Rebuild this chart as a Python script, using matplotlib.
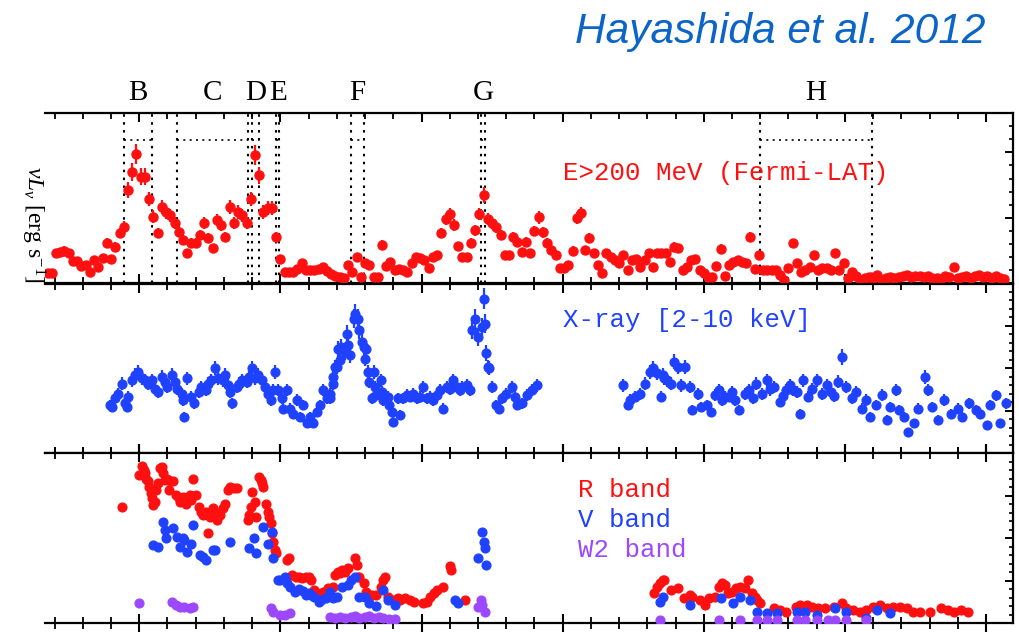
import numpy as np
import matplotlib
matplotlib.use("Agg")
import matplotlib.pyplot as plt
from matplotlib.ticker import MultipleLocator

plt.rcParams["mathtext.fontset"] = "custom"
plt.rcParams["mathtext.rm"] = "Liberation Serif"
plt.rcParams["mathtext.it"] = "Liberation Serif:italic"

# ---------------- Fermi-LAT E>200 MeV light curve (3-day bins) ----------------
LAT_FIRST_BIN = 54735.0
LAT_BIN_DAYS = 3.0
lat_flux = [
    0.16, 0.16, 0.47, 0.48, 0.50, 0.46, 0.35, 0.34, 0.26, 0.28,
    0.18, 0.36, 0.25, 0.39, 0.62, 0.37, 0.56, 0.77, 0.86, 1.42,
    1.70, 1.97, 1.63, 1.63, 1.29, 1.02, 0.77, 1.17, 1.09, 1.04,
    0.92, 0.79, 0.66, 0.46, 0.62, 0.62, 0.74, 0.92, 0.69, 0.54,
    0.97, 0.89, 0.71, 1.17, 0.92, 1.09, 1.04, 0.92, 1.29, 1.96,
    1.65, 1.09, 1.15, 1.15, 0.71, 0.37, 0.18, 0.17, 0.17, 0.22,
    0.31, 0.20, 0.20, 0.20, 0.22, 0.25, 0.19, 0.15, 0.12, 0.10,
    0.09, 0.28, 0.18, 0.40, 0.10, 0.31, 0.28, 0.10, 0.10, 0.59,
    0.27, 0.33, 0.20, 0.22, 0.20, 0.18, 0.31, 0.40, 0.39, 0.36,
    0.23, 0.40, 0.43, 0.77, 0.98, 1.06, 0.89, 0.57, 0.40, 0.40,
    0.62, 0.81, 1.06, 1.35, 0.98, 0.92, 0.86, 0.74, 0.43, 0.43,
    0.71, 0.63, 0.48, 0.63, 0.46, 0.80, 1.01, 0.78, 0.62, 0.51,
    0.43, 0.24, 0.24, 0.28, 0.50, 1.00, 1.07, 0.51, 0.69, 0.46,
    0.28, 0.16, 0.46, 0.40, 0.36, 0.31, 0.43, 0.20, 0.36, 0.37,
    0.25, 0.36, 0.46, 0.25, 0.46, 0.46, 0.46, 0.33, 0.56, 0.54,
    0.20, 0.25, 0.36, 0.38, 0.20, 0.16, 0.10, 0.10, 0.27, 0.53,
    0.11, 0.28, 0.33, 0.36, 0.33, 0.31, 0.71, 0.22, 0.43, 0.20,
    0.20, 0.20, 0.20, 0.13, 0.05, 0.23, 0.61, 0.31, 0.18, 0.20,
    0.25, 0.43, 0.20, 0.23, 0.23, 0.20, 0.46, 0.20, 0.31, 0.08,
    0.18, 0.11, 0.05, 0.08, 0.10, 0.08, 0.13, 0.05, 0.08, 0.10,
    0.09, 0.10, 0.12, 0.13, 0.10, 0.11, 0.12, 0.10, 0.12, 0.08,
    0.09, 0.07, 0.12, 0.10, 0.25, 0.08, 0.10, 0.12, 0.09, 0.11,
    0.13, 0.10, 0.12, 0.09, 0.11, 0.08, 0.07,
]
LAT_ERR_FLOOR = 0.035
LAT_ERR_FRAC = 0.06

# ---------------- X-ray 2-10 keV ----------------
xray_mjd = [
    54779, 54781, 54783, 54785, 54788, 54790, 54791, 54792, 54795, 54797,
    54799, 54802, 54804, 54806, 54809, 54811, 54813, 54816, 54818, 54820,
    54823, 54825, 54827, 54830, 54831, 54832, 54834, 54837, 54839, 54842,
    54844, 54847, 54849, 54851, 54854, 54856, 54859, 54861, 54863, 54864,
    54866, 54869, 54871, 54873, 54876, 54878, 54880, 54882, 54884, 54887,
    54889, 54891, 54893, 54895, 54896, 54898, 54901, 54902, 54905, 54907,
    54909, 54912, 54914, 54916, 54919, 54921, 54923, 54926, 54928, 54930,
    54933, 54935, 54935, 54937, 54937, 54939, 54940, 54941, 54942, 54943,
    54946, 54947, 54948, 54949, 54952, 54953, 54955, 54956, 54958, 54959,
    54960, 54961, 54962, 54963, 54965, 54966, 54967, 54968, 54971, 54972,
    54973, 54976, 54977, 54979, 54980, 54983, 54985, 54987, 54990, 54992,
    54994, 54997, 54999, 55001, 55004, 55006, 55008, 55011, 55013, 55015,
    55018, 55020, 55022, 55025, 55027, 55029, 55032, 55034, 55036, 55038,
    55040, 55043, 55044, 55045, 55046, 55047, 55048, 55050, 55053, 55055,
    55057, 55060, 55064, 55066, 55068, 55071, 55075, 55078, 55082,
    55143, 55146, 55148, 55151, 55155, 55158, 55162, 55164, 55167, 55170,
    55171, 55172, 55174, 55177, 55179, 55182, 55184, 55187, 55190, 55192,
    55196, 55198, 55202, 55205, 55208, 55211, 55213, 55215, 55218, 55220,
    55222, 55225, 55229, 55232, 55235, 55237, 55241, 55245, 55247, 55250,
    55254, 55256, 55258, 55261, 55263, 55266, 55268, 55270, 55274, 55277,
    55280, 55284, 55287, 55290, 55292, 55295, 55298, 55301, 55305, 55308,
    55312, 55315, 55318, 55322, 55326, 55330, 55332, 55336, 55338, 55342,
    55345, 55349, 55352, 55357, 55359, 55362, 55366, 55370, 55375, 55380,
    55383, 55388, 55393, 55396, 55401, 55403, 55407, 55410, 55414,
]
xray_flux = [
    1.13, 1.09, 1.29, 1.40, 1.64, 1.17, 1.09, 1.33, 1.72, 1.84,
    1.92, 1.76, 1.72, 1.64, 1.72, 1.52, 1.44, 1.80, 1.68, 1.56,
    1.84, 1.68, 1.52, 1.40, 1.25, 0.85, 1.76, 1.33, 1.17, 1.44,
    1.56, 1.48, 1.64, 1.72, 2.00, 1.76, 1.72, 1.84, 1.60, 1.44,
    1.17, 1.56, 1.64, 1.72, 1.68, 1.80, 2.00, 1.76, 1.84, 1.72,
    1.56, 1.40, 1.25, 1.48, 1.92, 1.48, 1.29, 1.05, 1.48, 1.05,
    0.93, 1.25, 0.85, 1.13, 0.70, 0.85, 0.70, 0.97, 1.13, 1.48,
    1.29, 1.40, 1.29, 1.64, 1.80, 2.03, 2.03, 2.46, 2.19, 2.50,
    2.39, 2.82, 2.54, 2.31, 3.17, 3.29, 3.17, 2.90, 2.62, 2.50,
    2.23, 2.46, 1.92, 1.68, 1.29, 1.92, 1.56, 1.37, 1.72, 1.44,
    1.25, 1.33, 1.13, 0.97, 0.74, 1.29, 0.89, 1.29, 1.37, 1.33,
    1.40, 1.29, 1.33, 1.56, 1.29, 1.33, 1.25, 1.37, 1.48, 1.05,
    1.56, 1.52, 1.72, 1.56, 1.48, 1.56, 1.60, 1.48, 2.90, 3.17,
    2.74, 2.97, 3.64, 3.05, 2.35, 2.03, 2.00, 1.56, 1.13, 1.05,
    1.29, 1.40, 1.56, 1.33, 1.13, 1.17, 1.37, 1.48, 1.60,
    1.60, 1.13, 1.25, 1.33, 1.40, 1.64, 1.92, 2.00, 1.88, 1.33,
    1.84, 1.76, 1.72, 1.64, 2.15, 2.03, 1.60, 2.03, 1.56, 1.01,
    1.40, 1.09, 1.13, 0.97, 1.37, 1.48, 1.25, 1.33, 1.33, 1.45,
    1.25, 1.01, 1.40, 1.48, 1.30, 1.64, 1.40, 1.72, 1.50, 1.56,
    1.21, 1.35, 1.48, 1.60, 1.48, 1.45, 0.93, 1.72, 1.33, 1.50,
    1.72, 1.40, 1.60, 1.44, 1.35, 1.68, 2.27, 1.56, 1.29, 1.44,
    1.05, 1.25, 0.85, 1.13, 1.37, 0.78, 1.09, 1.48, 1.01, 0.85,
    0.50, 0.70, 1.05, 1.80, 1.48, 1.09, 0.78, 1.25, 0.93, 1.05,
    0.85, 1.17, 1.01, 0.93, 0.66, 1.13, 1.36, 0.70, 1.17,
]
XRAY_ERR_FLOOR = 0.07
XRAY_ERR_FRAC = 0.05

# ---------------- Optical / UV ----------------
r_mjd = [
    54788, 54800, 54802, 54803, 54804, 54805, 54806, 54807, 54808, 54809,
    54810, 54811, 54812, 54813, 54815, 54816, 54817, 54818, 54820, 54821,
    54822, 54824, 54826, 54828, 54829, 54831, 54833, 54836, 54837, 54838,
    54840, 54842, 54844, 54845, 54847, 54849, 54850, 54852, 54854, 54855,
    54857, 54859, 54861, 54863, 54864, 54867, 54869, 54877, 54878, 54879,
    54880, 54882, 54883, 54885, 54886, 54887, 54888, 54890, 54891, 54892,
    54893, 54894, 54895, 54896, 54897, 54905, 54906, 54908, 54911, 54913,
    54915, 54918, 54920, 54922, 54924, 54926, 54930, 54934, 54937, 54939,
    54941, 54942, 54944, 54946, 54948, 54953, 54954, 54955, 54956, 54959,
    54961, 54965, 54968, 54971, 54973, 54974, 54976, 54980, 54983, 54985,
    54988, 54992, 54995, 55001, 55004, 55006, 55009, 55011, 55015, 55020,
    55021, 55031,
    55165, 55167, 55169, 55171, 55172, 55177, 55182, 55186, 55190, 55192,
    55197, 55201, 55204, 55208, 55211, 55213, 55215, 55217, 55220, 55223,
    55226, 55229, 55231, 55234, 55236, 55238, 55240, 55250, 55254, 55258,
    55265, 55268, 55273, 55277, 55281, 55286, 55292, 55298, 55301, 55306,
    55311, 55315, 55320, 55325, 55330, 55334, 55339, 55344, 55348, 55353,
    55360, 55368, 55373, 55377, 55382, 55387,
]
r_flux = [
    2.74, 3.48, 3.70, 3.60, 3.52, 3.40, 3.33, 3.21, 3.05, 2.93,
    2.78, 2.85, 3.13, 3.29, 3.64, 3.68, 3.52, 3.36, 3.40, 3.13,
    3.33, 3.33, 3.01, 2.93, 2.85, 2.97, 2.81, 3.01, 2.89, 3.40,
    3.01, 2.74, 2.62, 2.54, 2.62, 2.11, 2.50, 2.70, 2.62, 2.42,
    2.54, 2.70, 2.81, 3.13, 3.21, 3.17, 3.17, 2.42, 2.54, 2.74,
    3.09, 2.85, 2.50, 3.44, 3.36, 3.29, 3.21, 2.81, 2.62, 2.50,
    2.35, 2.11, 1.91, 1.72, 1.64, 1.48, 1.52, 1.13, 1.09, 1.09,
    1.05, 1.09, 1.09, 1.01, 0.78, 0.70, 0.74, 0.82, 0.85, 1.13,
    1.21, 1.17, 1.25, 1.21, 1.29, 1.52, 1.37, 1.09, 1.09, 0.93,
    0.74, 0.66, 0.66, 0.85, 1.01, 1.09, 0.62, 0.54, 0.58, 0.54,
    0.58, 0.54, 0.50, 0.46, 0.50, 0.62, 0.70, 0.78, 0.85, 1.33,
    1.25, 0.54,
    0.70, 0.85, 0.93, 1.01, 1.01, 0.78, 0.82, 0.58, 0.66, 0.62,
    0.54, 0.42, 0.58, 0.62, 0.85, 0.93, 0.90, 0.70, 0.74, 0.82,
    0.85, 0.82, 1.01, 0.70, 0.62, 0.54, 0.46, 0.35, 0.31, 0.27,
    0.38, 0.42, 0.42, 0.38, 0.35, 0.35, 0.38, 0.46, 0.35, 0.31,
    0.27, 0.31, 0.38, 0.42, 0.35, 0.38, 0.38, 0.35, 0.27, 0.27,
    0.27, 0.35, 0.31, 0.27, 0.31, 0.27,
]

v_mjd = [
    54810, 54813, 54817, 54818, 54819, 54824, 54827, 54829, 54831, 54832,
    54834, 54837, 54838, 54843, 54845, 54847, 54852, 54854, 54864, 54878,
    54881, 54883, 54888, 54891, 54894, 54895, 54898, 54900, 54903, 54905,
    54907, 54910, 54913, 54916, 54918, 54920, 54922, 54924, 54927, 54929,
    54932, 54935, 54937, 54940, 54944, 54948, 54950, 54953, 54956, 54960,
    54963, 54968, 54973, 54976, 54981, 55024, 55026, 55040, 55043, 55044,
    55045, 55046,
    55169, 55171, 55190, 55212, 55221, 55226, 55233, 55238, 55245, 55252,
    55266, 55272, 55280, 55293, 55301, 55315, 55323, 55332,
]
v_flux = [
    1.84, 1.80, 2.38, 2.19, 1.99, 2.23, 2.03, 1.80, 1.99, 1.95,
    1.68, 1.87, 2.31, 1.60, 1.56, 1.48, 1.72, 1.72, 1.91, 1.76,
    1.99, 1.64, 2.27, 1.87, 2.15, 1.52, 1.01, 1.01, 1.09, 0.93,
    0.85, 0.74, 0.80, 0.76, 0.66, 0.70, 0.66, 0.62, 0.50, 0.55,
    0.58, 0.74, 0.60, 0.62, 0.85, 0.89, 1.01, 1.09, 0.62, 0.62,
    0.46, 0.39, 0.78, 0.54, 0.42, 0.54, 0.46, 1.52, 2.15, 1.91,
    1.76, 1.36,
    0.50, 0.62, 0.42, 0.58, 0.46, 0.62, 0.54, 0.27, 0.23, 0.23,
    0.27, 0.27, 0.19, 0.35, 0.27, 0.11, 0.31, 0.23,
]

w2_mjd = [
    54800, 54823, 54826, 54829, 54832, 54836, 54838, 54893, 54895, 54900,
    54903, 54907, 54935, 54939, 54942, 54946, 54950, 54953, 54956, 54960,
    54963, 54966, 54970, 54973, 54977, 54981, 55040, 55042, 55043, 55045,
    55169, 55211, 55226, 55238, 55245, 55252, 55266, 55272, 55280, 55288,
    55293, 55301, 55315,
]
w2_flux = [
    0.48, 0.50, 0.42, 0.38, 0.38, 0.35, 0.38, 0.35, 0.27, 0.19,
    0.19, 0.23, 0.15, 0.11, 0.15, 0.12, 0.14, 0.17, 0.12, 0.13,
    0.16, 0.12, 0.14, 0.11, 0.10, 0.09, 0.38, 0.54, 0.42, 0.27,
    0.07, 0.07, 0.07, 0.07, 0.07, 0.07, 0.07, 0.07, 0.07, 0.07,
    0.07, 0.07, 0.07,
]

# ---------------- Activity periods ----------------
period_names = ["B", "C", "D", "E", "F", "G", "H"]
period_start = [54789, 54827, 54880, 54897, 54950, 55042, 55240]
period_end = [54809, 54877, 54885, 54899, 54959, 55045, 55319]
PERIOD_BOX_TOP = 2.19

MJD_MIN, MJD_MAX = 54733.2, 55419.1

RED = "#ff1010"
BLUE = "#1e42ff"
PURPLE = "#9c48ff"
TITLE_BLUE = "#0b64c8"

W, H = 1019, 635
fig = plt.figure(figsize=(W / 100, H / 100), dpi=100)
fig.patch.set_facecolor("white")


def frame(top_px, bottom_px, left_px=45, right_px=1013):
    return [left_px / W, 1 - bottom_px / H, (right_px - left_px) / W,
            (bottom_px - top_px) / H]


ax_g = fig.add_axes(frame(113, 283.5))
ax_x = fig.add_axes(frame(283.5, 453))
ax_o = fig.add_axes(frame(453, 623))

for ax, ytop in ((ax_g, 2.6), (ax_x, 4.0), (ax_o, 4.0)):
    ax.set_xlim(MJD_MIN, MJD_MAX)
    ax.set_ylim(0, ytop)
    ax.xaxis.set_major_locator(MultipleLocator(100))
    ax.xaxis.set_minor_locator(MultipleLocator(20))
    ax.yaxis.set_major_locator(MultipleLocator(1))
    ax.yaxis.set_minor_locator(MultipleLocator(0.2))
    ax.spines["left"].set_visible(False)
    for s in ("top", "bottom", "right"):
        ax.spines[s].set_linewidth(1.6)
    ax.tick_params(axis="x", which="both", top=True, bottom=True,
                   direction="in", labelbottom=False, labeltop=False)
    ax.tick_params(axis="x", which="major", length=6.5, width=1.5)
    ax.tick_params(axis="x", which="minor", length=4.2, width=1.3)
    ax.tick_params(axis="y", which="both", left=False, right=True,
                   direction="in", labelleft=False, labelright=False)
    ax.tick_params(axis="y", which="major", length=6, width=1.4)
    ax.tick_params(axis="y", which="minor", length=3, width=1.2)

ax_o.tick_params(axis="x", which="major", direction="inout", length=13)
ax_o.tick_params(axis="x", which="minor", direction="inout", length=8.5)

# gamma-ray panel
lat_t = LAT_FIRST_BIN + LAT_BIN_DAYS * np.arange(len(lat_flux))
lat_f = np.array(lat_flux)
lat_err = LAT_ERR_FLOOR + LAT_ERR_FRAC * lat_f
ax_g.errorbar(lat_t, lat_f, yerr=lat_err, fmt="o", ms=6.5, color=RED,
              ecolor=RED, elinewidth=1.6, capsize=0, zorder=3)

dot = (0, (1.2, 2.6))
for s, e in zip(period_start, period_end):
    for edge in (s, e):
        ax_g.axvline(edge, color="black", lw=1.5, ls=dot, zorder=2)
    ax_g.plot([s, e], [PERIOD_BOX_TOP, PERIOD_BOX_TOP], color="black",
              lw=1.2, ls=dot, zorder=2)

for name, s, e in zip(period_names, period_start, period_end):
    ax_g.text((s + e) / 2, 1.075, name, transform=ax_g.get_xaxis_transform(),
              ha="center", va="baseline", family="Liberation Serif",
              fontsize=21, color="black")

# X-ray panel
x_f = np.array(xray_flux)
ax_x.errorbar(xray_mjd, x_f, yerr=XRAY_ERR_FLOOR + XRAY_ERR_FRAC * x_f,
              fmt="o", ms=6.3, color=BLUE, ecolor=BLUE, elinewidth=1.6,
              capsize=0, zorder=3)

# optical / UV panel
ax_o.plot(r_mjd, r_flux, "o", ms=6.3, color=RED, zorder=3)
ax_o.plot(v_mjd, v_flux, "o", ms=6.3, color=BLUE, zorder=4)
ax_o.plot(w2_mjd, w2_flux, "o", ms=6.3, color=PURPLE, zorder=5)

mono = dict(family="Liberation Mono", fontsize=18.5, va="baseline", ha="left")
fig.text(563 / W, 1 - 180 / H, "E>200 MeV (Fermi-LAT)", color=RED, **mono)
fig.text(563 / W, 1 - 327 / H, "X-ray [2-10 keV]", color=BLUE, **mono)
fig.text(578 / W, 1 - 497 / H, "R band", color=RED, **mono)
fig.text(578 / W, 1 - 527 / H, "V band", color=BLUE, **mono)
fig.text(578 / W, 1 - 557 / H, "W2 band", color=PURPLE, **mono)

fig.text(33 / W, 1 - 225 / H, r"$\nu L_{\nu}$ [erg s$^{-1}$]",
         rotation=-90, ha="center", va="center", family="Liberation Serif",
         fontsize=17, color="black")

fig.text(575 / W, 1 - 43 / H, "Hayashida et al. 2012", family="Liberation Sans",
         style="italic", fontsize=30.5, color=TITLE_BLUE, ha="left",
         va="baseline")

fig.savefig("out.png", dpi=100, facecolor="white")
